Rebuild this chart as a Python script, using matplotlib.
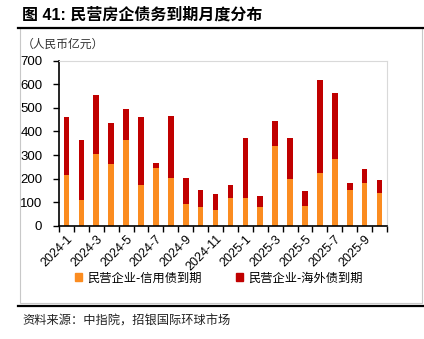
import matplotlib
matplotlib.use("Agg")
import matplotlib.pyplot as plt
from matplotlib.patches import Rectangle, Patch
from matplotlib.lines import Line2D
import numpy as np

plt.rcParams['font.family'] = ['Liberation Sans', 'Noto Sans CJK SC', 'DejaVu Sans']

months = ['2024-1', '2024-2', '2024-3', '2024-4', '2024-5', '2024-6', '2024-7', '2024-8',
          '2024-9', '2024-10', '2024-11', '2024-12', '2025-1', '2025-2', '2025-3', '2025-4',
          '2025-5', '2025-6', '2025-7', '2025-8', '2025-9', '2025-10']
credit = [214, 108, 306, 262, 365, 172, 246, 203, 92, 80, 69, 118,
          118, 79, 338, 197, 83, 223, 283, 151, 182, 138]
totals = [463, 362, 552, 435, 496, 463, 265, 466, 204, 151, 134, 175,
          373, 125, 444, 373, 148, 616, 562, 182, 241, 193]
overseas = [t - c for t, c in zip(totals, credit)]

series_names = ['民营企业-信用债到期', '民营企业-海外债到期']
title = '图 41: 民营房企债务到期月度分布'
unit = '（人民币亿元）'
source = '资料来源：中指院，招银国际环球市场'
yticks = [0, 100, 200, 300, 400, 500, 600, 700]

c_orange = '#FB8C20'
c_red = '#C00000'

W, H = 424, 339
fig = plt.figure(figsize=(W / 100, H / 100), dpi=100)

def fx(px):
    return px / W

def fy(py):
    return 1 - py / H

# outer frame and rules
fig.patches.append(Rectangle((fx(20), fy(303)), fx(422) - fx(20), fy(28) - fy(303),
                             transform=fig.transFigure, fill=False, edgecolor='#C8C8C8', lw=0.8))
fig.lines.append(Line2D([fx(18), fx(424)], [fy(28), fy(28)], transform=fig.transFigure,
                        color='black', lw=1.6))
fig.lines.append(Line2D([fx(18), fx(424)], [fy(306), fy(306)], transform=fig.transFigure,
                        color='black', lw=1.6))

cjk = ['Noto Sans CJK SC', 'DejaVu Sans']
fig.text(fx(22), fy(15), title, fontsize=11.5, fontweight='bold', family=['Liberation Sans', 'Noto Sans CJK SC'],
         ha='left', va='center')
fig.text(fx(22), fy(44), unit, fontsize=8.5, family=cjk, ha='left', va='center', color='#333333')
fig.text(fx(22), fy(321), source, fontsize=8.8, family=cjk, ha='left', va='center', color='#222222')

ax = fig.add_axes([fx(59), fy(226), fx(387) - fx(59), fy(60.5) - fy(226)])
x = np.arange(len(months))
bw = 0.38
ax.bar(x, credit, width=bw, color=c_orange, label=series_names[0])
ax.bar(x, overseas, width=bw, bottom=credit, color=c_red, label=series_names[1])

ax.set_xlim(-0.5, len(months) - 0.5)
ax.set_ylim(0, 700)
ax.set_yticks(yticks)
ax.tick_params(axis='y', direction='out', length=4, width=1, labelsize=9.5, colors='black', pad=8)
ax.set_xticks(x[::2])
ax.set_xticklabels(months[::2], rotation=45, ha='right', rotation_mode='anchor', fontsize=9)
ax.tick_params(axis='x', which='major', length=0, pad=5)
ax.set_xticks(np.arange(-0.5, len(months), 1), minor=True)
ax.tick_params(axis='x', which='minor', direction='out', length=4, width=1, color='black')
for s in ['top', 'right']:
    ax.spines[s].set_color('#D9D9D9')
    ax.spines[s].set_linewidth(0.8)
for s in ['left', 'bottom']:
    ax.spines[s].set_color('black')
    ax.spines[s].set_linewidth(1.2)

handles = [Patch(color=c_orange), Patch(color=c_red)]
fig.legend(handles, series_names, loc='center', bbox_to_anchor=(fx(219), fy(278)), ncol=2,
           frameon=False, prop={'family': cjk, 'size': 8.8}, handlelength=0.6, handleheight=0.6,
           handletextpad=0.4, columnspacing=2.8)

fig.savefig('out.png', dpi=100)
